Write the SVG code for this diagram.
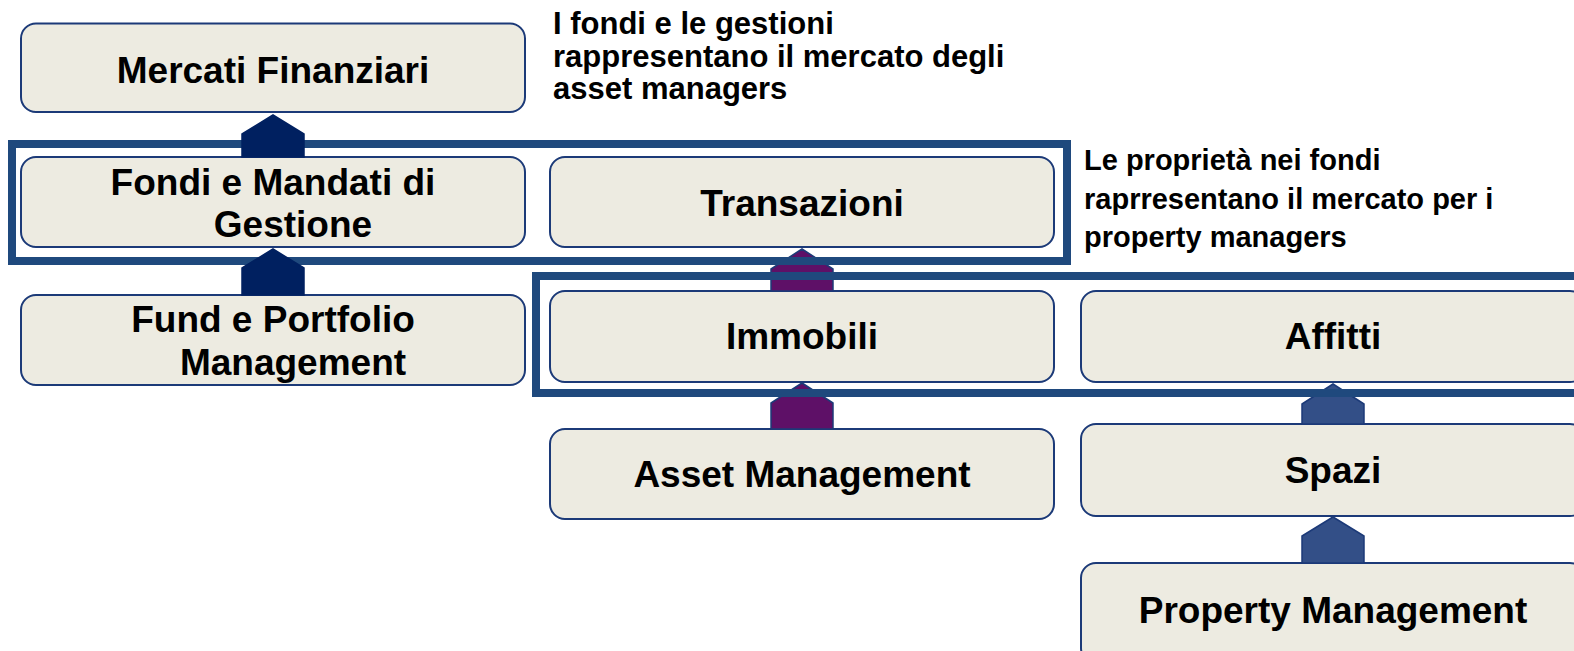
<svg xmlns="http://www.w3.org/2000/svg" width="1574" height="651" viewBox="0 0 1574 651">
<defs>
<style>
.box{fill:#EDEBE1;stroke:#1C3A78;stroke-width:2}
.t{font-family:"Liberation Sans",Arial,sans-serif;font-weight:bold;font-size:37px;fill:#000;text-anchor:middle}
.a1{font-family:"Liberation Sans",Arial,sans-serif;font-weight:bold;font-size:31px;fill:#000}
.a2{font-family:"Liberation Sans",Arial,sans-serif;font-weight:bold;font-size:29px;fill:#000}
.frame{fill:none;stroke:#1F497D;stroke-width:8}
.chL{fill:#002060;stroke:#002060;stroke-width:1.5}
.chM{fill:#5E1067;stroke:#1C3A78;stroke-width:1.5}
.chR{fill:#334F87;stroke:#1C3A78;stroke-width:1.5}
</style>
</defs>
<rect width="1574" height="651" fill="#fff"/>

<g id="mercati-finanziari"><rect class="box" x="21" y="23.5" width="504" height="88.5" rx="15"/><text class="t" x="273" y="83">Mercati Finanziari</text></g>
<g id="fondi-mandati"><rect class="box" x="21" y="157" width="504" height="90" rx="15"/><text class="t" x="273" y="195">Fondi e Mandati di</text><text class="t" x="293" y="237">Gestione</text></g>
<g id="transazioni"><rect class="box" x="550" y="157" width="504" height="90" rx="15"/><text class="t" x="802" y="216">Transazioni</text></g>
<g id="fund-portfolio"><rect class="box" x="21" y="295" width="504" height="90" rx="15"/><text class="t" x="273" y="332">Fund e Portfolio</text><text class="t" x="293" y="375">Management</text></g>
<g id="immobili"><rect class="box" x="550" y="291" width="504" height="91" rx="15"/><text class="t" x="802" y="349">Immobili</text></g>
<g id="affitti"><rect class="box" x="1081" y="291" width="504" height="91" rx="15"/><text class="t" x="1333" y="349">Affitti</text></g>
<g id="asset-management"><rect class="box" x="550" y="429" width="504" height="90" rx="15"/><text class="t" x="802" y="487">Asset Management</text></g>
<g id="spazi"><rect class="box" x="1081" y="424" width="504" height="92" rx="15"/><text class="t" x="1333" y="483">Spazi</text></g>
<g id="property-management"><rect class="box" x="1081" y="563" width="504" height="100" rx="15"/><text class="t" x="1333" y="623">Property Management</text></g>

<g id="connectors">
<polygon class="chM" points="802,249 833,269 833,291 771,291 771,269"/>
<polygon class="chM" points="802,383 833,403 833,429 771,429 771,403"/>
<polygon class="chR" points="1333,384 1364,404 1364,424 1302,424 1302,404"/>
<polygon class="chR" points="1333,517 1364,536 1364,563 1302,563 1302,536"/>
</g>

<g id="frames">
<rect class="frame" x="12" y="144" width="1055" height="117"/>
<rect class="frame" x="536" y="276" width="1100" height="117"/>
</g>

<g id="connectors-left">
<polygon class="chL" points="273,115 304,134 304,157 242,157 242,134"/>
<polygon class="chL" points="273,249 304,268 304,295 242,295 242,268"/>
</g>

<g id="note-asset-managers">
<text class="a1" x="553" y="34">I fondi e le gestioni</text>
<text class="a1" x="553" y="67">rappresentano il mercato degli</text>
<text class="a1" x="553" y="99">asset managers</text>
</g>
<g id="note-property-managers">
<text class="a2" x="1084" y="170">Le proprietà nei fondi</text>
<text class="a2" x="1084" y="209">raprresentano il mercato per i</text>
<text class="a2" x="1084" y="247">property managers</text>
</g>
</svg>
